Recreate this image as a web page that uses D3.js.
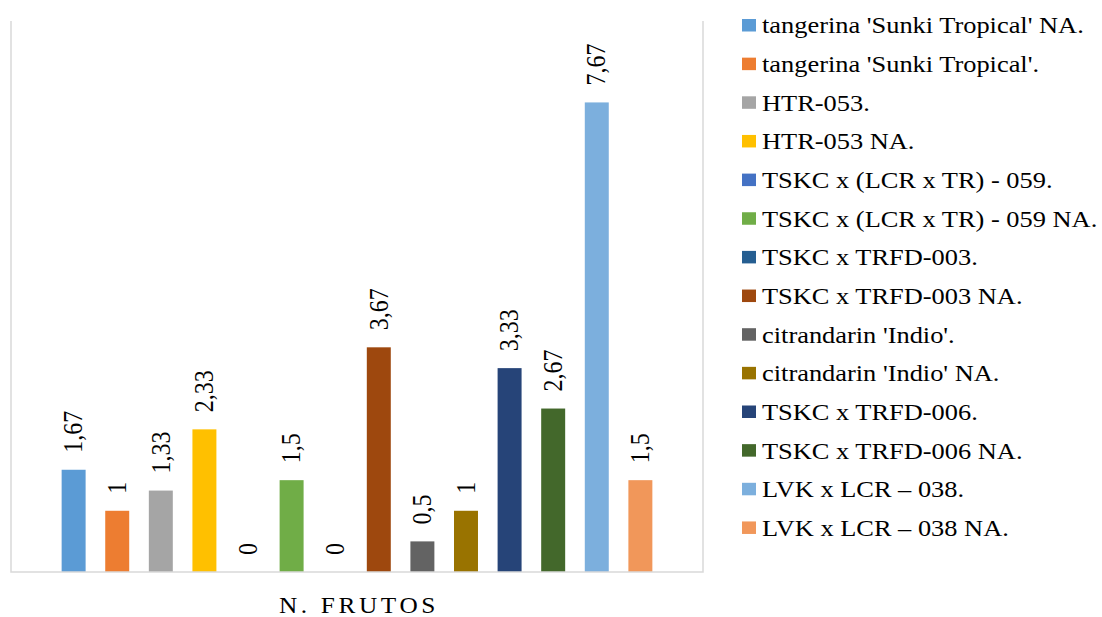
<!DOCTYPE html>
<html>
<head>
<meta charset="utf-8">
<script src="https://cdn.jsdelivr.net/npm/d3@7"></script>
<style>
  body { margin: 0; background: #fff; }
  text { font-family: "Liberation Serif", "Times New Roman", serif; fill: #000; }
</style>
</head>
<body>
<script>
const category = ["N. FRUTOS"];
const series = [
  "tangerina 'Sunki Tropical' NA.",
  "tangerina 'Sunki Tropical'.",
  "HTR-053.",
  "HTR-053 NA.",
  "TSKC x (LCR x TR) - 059.",
  "TSKC x (LCR x TR) - 059 NA.",
  "TSKC x TRFD-003.",
  "TSKC x TRFD-003 NA.",
  "citrandarin 'Indio'.",
  "citrandarin 'Indio' NA.",
  "TSKC x TRFD-006.",
  "TSKC x TRFD-006 NA.",
  "LVK x LCR \u2013 038.",
  "LVK x LCR \u2013 038 NA."
];
const values = [1.67, 1, 1.33, 2.33, 0, 1.5, 0, 3.67, 0.5, 1, 3.33, 2.67, 7.67, 1.5];
const colors = ["#5B9BD5", "#ED7D31", "#A5A5A5", "#FFC000", "#4472C4", "#70AD47", "#255E91",
  "#9E480E", "#636363", "#997300", "#264478", "#43682B", "#7CAFDD", "#F1975A"];

const W = 1102, H = 617;
const plot = { left: 11, right: 703, top: 21, bottom: 572 };
const sx = 1.1; // the picture is a little wider than tall

const svg = d3.select("body").append("svg")
  .attr("width", W)
  .attr("height", H);

const x0 = d3.scaleBand()
  .domain(category)
  .range([plot.left, plot.right])
  .paddingInner(0.118)
  .paddingOuter(0.059);

const x1 = d3.scaleBand()
  .domain(series)
  .range([0, x0.bandwidth()])
  .paddingInner(0.45)
  .paddingOuter(0.225);

const y = d3.scaleLinear()
  .domain([0, 9])
  .range([plot.bottom, plot.top]);

const color = d3.scaleOrdinal().domain(series).range(colors);
const fmt = v => String(v).replace(".", ",");

const data = series.map((s, i) => ({ name: s, value: values[i] }));

// bars
const g = svg.append("g").attr("transform", `translate(${x0(category[0])},0)`);
g.selectAll("rect")
  .data(data)
  .enter()
  .append("rect")
  .attr("x", d => x1(d.name))
  .attr("y", d => y(d.value))
  .attr("width", x1.bandwidth())
  .attr("height", d => y(0) - y(d.value))
  .attr("fill", d => color(d.name));

// plot border (left, bottom, right)
svg.append("path")
  .attr("d", `M${plot.left},${plot.top}V${plot.bottom}H${plot.right}V${plot.top}`)
  .attr("fill", "none")
  .attr("stroke", "#d9d9d9")
  .attr("stroke-width", 1.5);

// rotated value labels
g.selectAll("text.lbl")
  .data(data)
  .enter()
  .append("text")
  .attr("class", "lbl")
  .attr("transform", d => `translate(${x1(d.name) + x1.bandwidth() / 2},${y(d.value) - 17}) scale(${sx},1) rotate(-90)`)
  .attr("dy", "0.33em")
  .attr("font-size", 24)
  .text(d => fmt(d.value));

// category label
svg.append("text")
  .attr("transform", `translate(${(plot.left + plot.right) / 2 + 2},613) scale(${sx},1)`)
  .attr("text-anchor", "middle")
  .attr("font-size", 23)
  .attr("letter-spacing", 3.3)
  .text(category[0]);

// legend
const legend = svg.append("g").attr("transform", "translate(742,25)");
const item = legend.selectAll("g")
  .data(series)
  .enter()
  .append("g")
  .attr("transform", (d, i) => `translate(0,${i * 38.65})`);
item.append("rect")
  .attr("x", 0)
  .attr("y", -6)
  .attr("width", 14)
  .attr("height", 12.5)
  .attr("fill", d => color(d));
item.append("text")
  .attr("transform", `translate(20,0) scale(${sx},1)`)
  .attr("dy", "0.35em")
  .attr("font-size", 24)
  .text(d => d);
</script>
</body>
</html>
